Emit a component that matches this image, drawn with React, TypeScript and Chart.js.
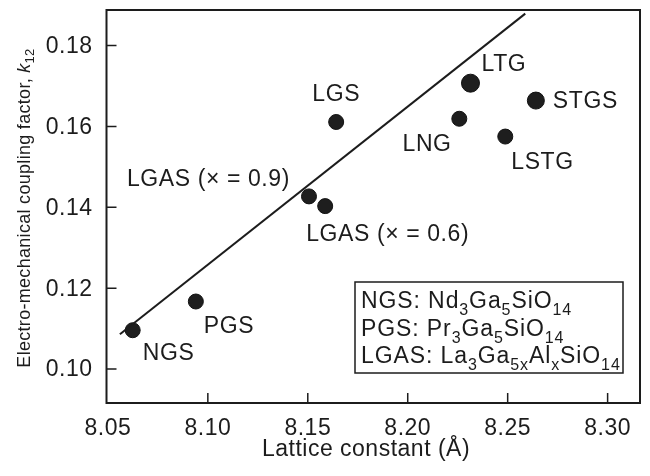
import React, { useEffect, useRef } from "react";
import { Chart, registerables } from "chart.js";

Chart.register(...registerables);

// ---------- data ----------
const materials = ["NGS", "PGS", "LGAS (× = 0.9)", "LGAS (× = 0.6)", "LGS", "LTG", "STGS", "LNG", "LSTG"];
const latticeConstant = [8.0624, 8.094, 8.1506, 8.1587, 8.1642, 8.2314, 8.2641, 8.2258, 8.2488];
const couplingFactor = [0.1096, 0.1167, 0.1427, 0.1403, 0.1611, 0.1707, 0.1664, 0.1619, 0.1575];
const trendX = [8.056, 8.2588];
const trendY = [0.1086, 0.1879];
const xTicks = [8.05, 8.1, 8.15, 8.2, 8.25, 8.3];
const yTicks = [0.1, 0.12, 0.14, 0.16, 0.18];
const legendLines = ["NGS: Nd_{3}Ga_{5}SiO_{14}", "PGS: Pr_{3}Ga_{5}SiO_{14}", "LGAS: La_{3}Ga_{5x}Al_{x}SiO_{14}"];
const xTitle = "Lattice constant (Å)";
const yTitle = "Electro-mechanical coupling factor, *k*_{12}";

// label placement relative to each point (pixels): dx, dy, align
const labelPlacement: [number, number, CanvasTextAlign][] = [
  [10, 30, "left"],
  [8, 31, "left"],
  [-19, -10.5, "right"],
  [-19, 35, "left"],
  [0, -20.7, "center"],
  [11, -11.7, "left"],
  [17, 7, "left"],
  [-7.7, 32, "right"],
  [6, 32, "left"],
];

const FONT = "'Liberation Sans', Arial, Helvetica, sans-serif";
const INK = "#1c1c1c";

type Seg = { t: string; sub: boolean; it: boolean };
function parseRich(s: string): Seg[] {
  const segs: Seg[] = [];
  const re = /_\{([^}]*)\}|\*([^*]*)\*|([^_*]+)/g;
  let m: RegExpExecArray | null;
  while ((m = re.exec(s))) {
    if (m[1] !== undefined) segs.push({ t: m[1], sub: true, it: false });
    else if (m[2] !== undefined) segs.push({ t: m[2], sub: false, it: true });
    else segs.push({ t: m[3], sub: false, it: false });
  }
  return segs;
}

function drawRich(
  ctx: CanvasRenderingContext2D,
  s: string,
  x: number,
  y: number,
  size: number,
  subSize: number,
  subDrop: number,
  align: "left" | "center"
) {
  const segs = parseRich(s);
  const fontFor = (g: Seg) => `${g.it ? "italic " : ""}${g.sub ? subSize : size}px ${FONT}`;
  let total = 0;
  for (const g of segs) {
    ctx.font = fontFor(g);
    total += ctx.measureText(g.t).width;
  }
  let cx = align === "center" ? x - total / 2 : x;
  ctx.textAlign = "left";
  ctx.textBaseline = "alphabetic";
  for (const g of segs) {
    ctx.font = fontFor(g);
    ctx.fillText(g.t, cx, y + (g.sub ? subDrop : 0));
    cx += ctx.measureText(g.t).width;
  }
}

const decorations = {
  id: "decorations",
  afterDatasetsDraw(chart: any) {
    const ctx: any = chart.ctx;
    const { left, right, top, bottom } = chart.chartArea;
    const xs = chart.scales.x;
    const ys = chart.scales.y;
    ctx.save();
    ctx.strokeStyle = INK;
    ctx.fillStyle = INK;

    // frame
    ctx.lineWidth = 2;
    ctx.strokeRect(left, top, right - left, bottom - top);

    // ticks (inward)
    ctx.lineWidth = 1.5;
    ctx.beginPath();
    for (const v of xTicks) {
      const px = xs.getPixelForValue(v);
      if (px <= left + 2) continue;
      ctx.moveTo(px, bottom);
      ctx.lineTo(px, bottom - 10);
    }
    for (const v of yTicks) {
      const py = ys.getPixelForValue(v);
      ctx.moveTo(left, py);
      ctx.lineTo(left + 10, py);
    }
    ctx.stroke();

    // tick labels
    ctx.letterSpacing = "0.5px";
    ctx.font = `23px ${FONT}`;
    ctx.textAlign = "center";
    ctx.textBaseline = "alphabetic";
    for (const v of xTicks) {
      ctx.fillText(v.toFixed(2), xs.getPixelForValue(v), 435);
    }
    ctx.textAlign = "right";
    ctx.textBaseline = "middle";
    for (const v of yTicks) {
      ctx.fillText(v.toFixed(2), left - 14, ys.getPixelForValue(v) + 1);
    }

    // axis titles
    ctx.font = `23px ${FONT}`;
    ctx.textAlign = "center";
    ctx.textBaseline = "alphabetic";
    ctx.fillText(xTitle, 366, 456);

    ctx.save();
    ctx.translate(30, 208);
    ctx.rotate(-Math.PI / 2);
    ctx.letterSpacing = "0.3px";
    drawRich(ctx, yTitle, 0, 0, 18, 13, 4, "center");
    ctx.restore();

    // point labels
    ctx.letterSpacing = "0.6px";
    ctx.font = `23px ${FONT}`;
    ctx.textBaseline = "alphabetic";
    materials.forEach((name, i) => {
      const px = xs.getPixelForValue(latticeConstant[i]);
      const py = ys.getPixelForValue(couplingFactor[i]);
      const [dx, dy, al] = labelPlacement[i];
      ctx.textAlign = al;
      ctx.fillText(name, px + dx, py + dy);
    });

    // formula box
    const bx0 = right - 285;
    const bx1 = right - 17;
    const by0 = bottom - 121;
    const by1 = bottom - 30;
    ctx.lineWidth = 1.5;
    ctx.strokeRect(bx0, by0, bx1 - bx0, by1 - by0);
    ctx.letterSpacing = "0.9px";
    legendLines.forEach((ln, i) => {
      drawRich(ctx, ln, bx0 + 6, by0 + 26 + i * 27.5, 23, 16, 7, "left");
    });
    ctx.letterSpacing = "0px";

    ctx.restore();
  },
};

export default function App() {
  const ref = useRef<HTMLCanvasElement | null>(null);
  useEffect(() => {
    if (!ref.current) return;
    const chart = new Chart(ref.current, {
      type: "scatter",
      data: {
        datasets: [
          {
            type: "line",
            data: trendX.map((x, i) => ({ x, y: trendY[i] })),
            borderColor: INK,
            borderWidth: 2,
            pointRadius: 0,
            showLine: true,
            fill: false,
          } as any,
          {
            type: "scatter",
            data: latticeConstant.map((x, i) => ({ x, y: couplingFactor[i] })),
            backgroundColor: "#1e1e1e",
            borderColor: "#111",
            borderWidth: 1,
            pointRadius: (c: any) => (c.dataIndex === 5 ? 9 : c.dataIndex === 6 ? 8.5 : 7.5),
          } as any,
        ],
      },
      options: {
        animation: false,
        responsive: false,
        events: [],
        layout: { padding: { left: 106.5, right: 5, top: 8, bottom: 73 } },
        plugins: { legend: { display: false }, tooltip: { enabled: false } },
        scales: {
          x: { type: "linear", min: 8.0493, max: 8.3162, display: false },
          y: { type: "linear", min: 0.0916, max: 0.1888, display: false },
        },
      },
      plugins: [decorations],
    });
    return () => chart.destroy();
  }, []);
  return (
    <div style={{ position: "fixed", left: 0, top: 0, width: 650, height: 476, background: "#fff" }}>
      <canvas ref={ref} width={650} height={476} style={{ display: "block", width: 650, height: 476 }} />
    </div>
  );
}
